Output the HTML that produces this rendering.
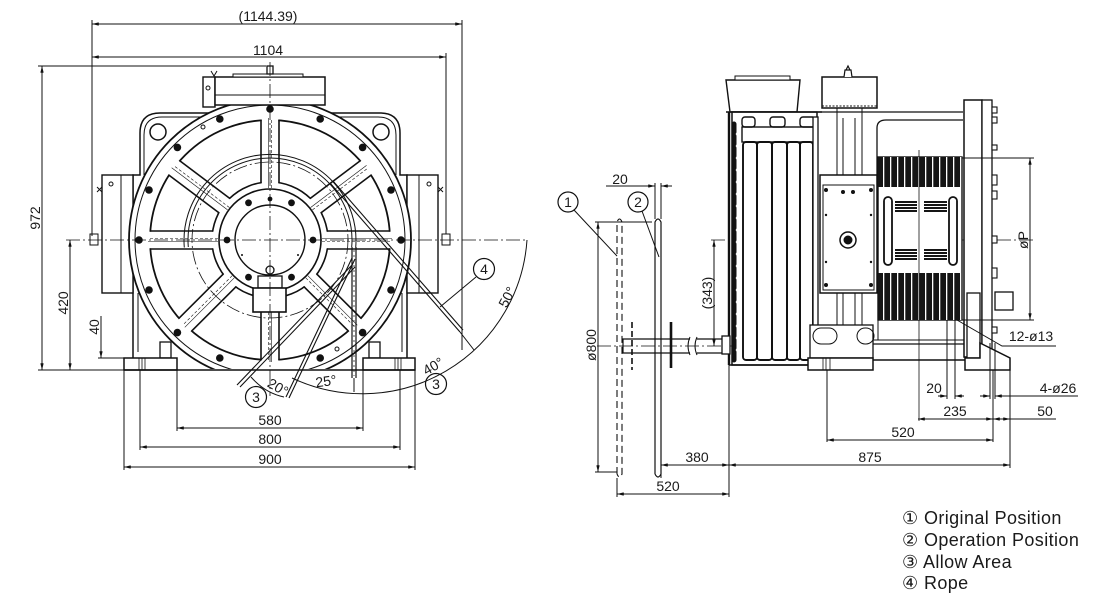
<!DOCTYPE html>
<html><head><meta charset="utf-8"><style>
html,body{margin:0;padding:0;background:#fff;}
svg{display:block;}
text{font-family:"Liberation Sans","DejaVu Sans",sans-serif;fill:#1a1a1a;stroke:none;}
</style></head><body>
<svg width="1105" height="605" viewBox="0 0 1105 605" xmlns="http://www.w3.org/2000/svg">
<defs>
<marker id="a" viewBox="0 0 8 4" refX="8" refY="2" markerWidth="7" markerHeight="3.4" markerUnits="userSpaceOnUse" orient="auto-start-reverse"><path d="M0,0L8,2L0,4z" fill="#111"/></marker>
<clipPath id="cb"><rect x="0" y="0" width="1105" height="369"/></clipPath>
<pattern id="gr" x="878" y="0" width="7" height="10" patternUnits="userSpaceOnUse"><rect width="7" height="10" fill="#151515"/><rect x="5" width="1.3" height="10" fill="#fff"/></pattern>
<pattern id="hv" x="0" y="0" width="4" height="3" patternUnits="userSpaceOnUse"><rect width="4" height="2" fill="#151515"/></pattern>
</defs>

<!-- ================= LEFT VIEW ================= -->
<g fill="none" stroke="#111" stroke-width="1">
<path d="M133,358 L133,175 L140,175 L140,133 Q140,113 160,113 L380,113 Q400,113 400,133 L400,175 L407,175 L407,358" fill="#fff" stroke-width="1.5"/>
<path d="M144,175 L144,135 Q144,117 162,117 L378,117 Q396,117 396,135 L396,175"/>
<line x1="138" y1="293" x2="138" y2="352"/>
<line x1="402" y1="293" x2="402" y2="352"/>
<circle cx="158" cy="132" r="8" stroke-width="1.5"/>
<circle cx="381" cy="132" r="8" stroke-width="1.5"/>
<rect x="102" y="175" width="31" height="118" fill="#fff" stroke-width="1.4"/>
<line x1="121" y1="175" x2="121" y2="293"/>
<circle cx="111" cy="184" r="2"/>
<rect x="407" y="175" width="31" height="118" fill="#fff" stroke-width="1.4"/>
<line x1="419" y1="175" x2="419" y2="293"/>
<circle cx="429" cy="184" r="2"/>
<path d="M97,187 l5,5 M97,192 l5,-5 M438,187 l5,5 M438,192 l5,-5"/>
<rect x="90" y="234" width="8" height="11" fill="#fff"/>
<rect x="442" y="234" width="8" height="11" fill="#fff"/>
<rect x="160" y="342" width="11" height="16" fill="#fff" stroke-width="1.3"/>
<rect x="369" y="342" width="11" height="16" fill="#fff" stroke-width="1.3"/>
<rect x="124" y="358" width="53" height="12" fill="#fff" stroke-width="1.5"/>
<rect x="363" y="358" width="52" height="12" fill="#fff" stroke-width="1.5"/>
<path d="M139,358v12M142,358v12M145,358v12M395,358v12M398,358v12M401,358v12" stroke-width=".8"/>
<g clip-path="url(#cb)">
<circle cx="270" cy="240" r="141" fill="#fff" stroke-width="1.8"/>
<circle cx="270" cy="240" r="135"/>
</g>
<line x1="124" y1="370" x2="415" y2="370" stroke-width="1.5"/>
<g fill="#111" stroke="none">
<circle cx="401" cy="240" r="3.8"/><circle cx="391" cy="190" r="3.8"/><circle cx="362.6" cy="147.4" r="3.8"/><circle cx="320.2" cy="119" r="3.8"/>
<circle cx="270" cy="109" r="3.8"/><circle cx="219.8" cy="119" r="3.8"/><circle cx="177.4" cy="147.4" r="3.8"/><circle cx="149" cy="190" r="3.8"/>
<circle cx="139" cy="240" r="3.8"/><circle cx="149" cy="290" r="3.8"/><circle cx="177.4" cy="332.6" r="3.8"/><circle cx="219.8" cy="358" r="3.8"/>
<circle cx="320.2" cy="358" r="3.8"/><circle cx="362.6" cy="332.6" r="3.8"/><circle cx="391" cy="290" r="3.8"/>
</g>
<circle cx="203" cy="127" r="2"/>
<circle cx="337" cy="349" r="2"/>
<circle cx="270" cy="240" r="120" stroke-width="1.8"/>
<circle cx="270" cy="240" r="58" stroke-width="1.6"/>
<g id="sp0">
<rect x="325" y="231.7" width="67" height="16.6" fill="#fff" stroke="none"/>
<line x1="327" y1="231" x2="390" y2="231" stroke-width="1.6"/>
<line x1="327" y1="249" x2="390" y2="249" stroke-width="1.6"/>
<line x1="322" y1="238.5" x2="392" y2="238.5" stroke-width=".6"/>
<line x1="322" y1="241.5" x2="392" y2="241.5" stroke-width=".6" stroke-dasharray="3 2"/>
</g>
<use href="#sp0" transform="rotate(-37 270 240)"/>
<use href="#sp0" transform="rotate(-90 270 240)"/>
<use href="#sp0" transform="rotate(-143 270 240)"/>
<use href="#sp0" transform="rotate(180 270 240)"/>
<use href="#sp0" transform="rotate(135 270 240)"/>
<use href="#sp0" transform="rotate(90 270 240)"/>
<use href="#sp0" transform="rotate(45 270 240)"/>
<circle cx="270" cy="240" r="78" stroke-width=".8" stroke-dasharray="14 3 2 3"/>
<path d="M188.3,247 A82,82 0 1,1 351.7,247"/>
<path d="M184.3,247.5 A86,86 0 1,1 355.7,247.5"/>
<circle cx="270" cy="240" r="51" fill="#fff" stroke-width="1.6"/>
<circle cx="270" cy="240" r="35" stroke-width="1.4"/>
<g fill="#111" stroke="none">
<circle cx="313" cy="240" r="3.4"/><circle cx="227" cy="240" r="3.4"/>
<circle cx="291.5" cy="202.8" r="3.4"/><circle cx="248.5" cy="202.8" r="3.4"/>
<circle cx="248.5" cy="277.2" r="3.4"/><circle cx="291.5" cy="277.2" r="3.4"/>
<circle cx="270" cy="199" r="2.4"/><circle cx="242" cy="255" r="1"/><circle cx="298" cy="255" r="1"/>
</g>
<circle cx="270" cy="270" r="4" fill="#fff" stroke-width="1.3"/>
<rect x="258" y="276" width="24" height="12" fill="#fff" stroke-width="1.3"/>
<rect x="253" y="288" width="33" height="24" fill="#fff" stroke-width="1.6"/>
<rect x="203" y="77" width="12" height="30" fill="#fff" stroke-width="1.4"/>
<circle cx="208" cy="88" r="2"/>
<rect x="215" y="77" width="110" height="28" fill="#fff" stroke-width="1.5"/>
<line x1="215" y1="95" x2="325" y2="95"/>
<rect x="233" y="74" width="70" height="3" fill="#fff"/>
<rect x="267" y="66" width="6" height="8" fill="#fff" stroke-width="1.3"/>
<path d="M211,71 l3,5 l3,-5" />
<line x1="270" y1="62" x2="270" y2="396" stroke-width=".8" stroke-dasharray="14 3 2 3"/>
<line x1="66" y1="240" x2="527" y2="240" stroke-width=".8" stroke-dasharray="14 3 2 3"/>
<line x1="352" y1="247" x2="352" y2="378" stroke-width="1.2"/>
<line x1="356" y1="247" x2="356" y2="378" stroke-width="1.2"/>
<line x1="354" y1="250" x2="354" y2="376" stroke-width=".7" stroke-dasharray="2 3"/>
<line x1="330" y1="183" x2="460" y2="332" stroke-width="1.1"/>
<line x1="333" y1="181" x2="463" y2="330" stroke-width="1.1"/>
<line x1="460" y1="332" x2="474" y2="350"/>
<line x1="237" y1="385" x2="352" y2="265" stroke-width="1.1"/>
<line x1="240" y1="387" x2="355" y2="267" stroke-width="1.1"/>
<line x1="286" y1="397" x2="352" y2="258" stroke-width="1.1"/>
<line x1="289" y1="398" x2="355" y2="259" stroke-width="1.1"/>
<path d="M527,240 A165,165 0 0,1 292,378"/>
<path d="M251,377 Q265,393 284,397"/>
<line x1="354" y1="378" x2="354" y2="392"/>
<line x1="476" y1="277" x2="440" y2="307"/>
<line x1="92" y1="24" x2="462" y2="24" marker-start="url(#a)" marker-end="url(#a)"/>
<line x1="92" y1="57" x2="446" y2="57" marker-start="url(#a)" marker-end="url(#a)"/>
<line x1="92" y1="20" x2="92" y2="236"/>
<line x1="462" y1="20" x2="462" y2="350"/>
<line x1="446" y1="53" x2="446" y2="234"/>
<line x1="42" y1="66" x2="42" y2="370" marker-start="url(#a)" marker-end="url(#a)"/>
<line x1="38" y1="66" x2="266" y2="66"/>
<line x1="38" y1="370" x2="124" y2="370"/>
<line x1="70" y1="240" x2="70" y2="370" marker-start="url(#a)" marker-end="url(#a)"/>
<line x1="101" y1="316" x2="101" y2="358" marker-end="url(#a)"/>
<line x1="98" y1="358" x2="124" y2="358"/>
<line x1="177" y1="370" x2="177" y2="431"/>
<line x1="363" y1="370" x2="363" y2="431"/>
<line x1="140" y1="370" x2="140" y2="450"/>
<line x1="400" y1="370" x2="400" y2="450"/>
<line x1="124" y1="370" x2="124" y2="470"/>
<line x1="415" y1="370" x2="415" y2="470"/>
<line x1="177" y1="428" x2="363" y2="428" marker-start="url(#a)" marker-end="url(#a)"/>
<line x1="140" y1="447" x2="400" y2="447" marker-start="url(#a)" marker-end="url(#a)"/>
<line x1="124" y1="467" x2="415" y2="467" marker-start="url(#a)" marker-end="url(#a)"/>
<circle cx="484" cy="269" r="10.5" stroke-width="1.2"/>
<circle cx="436" cy="384" r="10.5" stroke-width="1.2"/>
<circle cx="256" cy="397" r="10.5" stroke-width="1.2"/>
</g>
<g font-size="14" text-anchor="middle">
<text x="268" y="21">(1144.39)</text>
<text x="268" y="55">1104</text>
<text transform="translate(40,218) rotate(-90)">972</text>
<text transform="translate(68,303) rotate(-90)">420</text>
<text transform="translate(99,327) rotate(-90)">40</text>
<text x="270" y="425">580</text>
<text x="270" y="444">800</text>
<text x="270" y="464">900</text>
<text transform="translate(507,297) rotate(-62)" dy="5">50°</text>
<text transform="translate(433,366) rotate(-30)" dy="5">40°</text>
<text transform="translate(326,381) rotate(-8)" dy="5">25°</text>
<text transform="translate(278,387) rotate(30)" dy="5">20°</text>
<text x="484" y="274">4</text>
<text x="436" y="389">3</text>
<text x="256" y="402">3</text>
</g>

<!-- ================= RIGHT VIEW ================= -->
<g fill="none" stroke="#111" stroke-width="1">
<line x1="598" y1="222" x2="598" y2="472" marker-start="url(#a)" marker-end="url(#a)"/>
<line x1="595" y1="222" x2="652" y2="222"/>
<line x1="595" y1="472" x2="617" y2="472"/>
<path d="M617,474 L617,222 Q619.5,216 622,222 L622,474 Q619.5,480 617,474" stroke-dasharray="7 4" stroke-width="1.1"/>
<path d="M655,474 L655,222 Q658,216 661,222 L661,474 Q658,480 655,474" stroke-width="1.2"/>
<line x1="655" y1="183" x2="655" y2="219"/>
<line x1="661" y1="183" x2="661" y2="219"/>
<line x1="606" y1="186" x2="655" y2="186" marker-end="url(#a)"/>
<line x1="672" y1="186" x2="661" y2="186" marker-end="url(#a)"/>
<circle cx="568" cy="202" r="10" stroke-width="1.2"/>
<circle cx="638" cy="202" r="10" stroke-width="1.2"/>
<line x1="574" y1="210" x2="617" y2="256"/>
<line x1="642" y1="211" x2="659" y2="257"/>
<line x1="597" y1="346" x2="745" y2="346" stroke-width=".8" stroke-dasharray="14 3 2 3"/>
<path d="M690,339 L623,339 L623,353 L690,353 M697,339 L725,339 M697,353 L725,353" stroke-width="1.2"/>
<path d="M690,337 q-4,9 0,18 M697,337 q-4,9 0,18"/>
<line x1="671" y1="322" x2="671" y2="368" stroke-width="2.6"/>
<line x1="632" y1="322" x2="632" y2="370" stroke-width="1.6" stroke-dasharray="6 3"/>
<line x1="714" y1="240" x2="714" y2="346" marker-start="url(#a)" marker-end="url(#a)"/>
<line x1="711" y1="240" x2="1035" y2="240" stroke-width=".8" stroke-dasharray="14 3 2 3"/>
<polygon points="726,80 800,80 797,112 730,112" fill="#fff" stroke-width="1.4"/>
<rect x="735" y="76" width="55" height="4" fill="#fff"/>
<rect x="732" y="112" width="85" height="253" fill="#fff" stroke-width="1.5"/>
<line x1="726" y1="112" x2="822" y2="112" stroke-width="1.5"/>
<rect x="742" y="127" width="73" height="15" stroke-width="1.4"/>
<rect x="742" y="117" width="13" height="10" rx="3" stroke-width="1.4"/>
<rect x="770" y="117" width="15" height="10" rx="3" stroke-width="1.4"/>
<rect x="800" y="117" width="15" height="10" rx="3" stroke-width="1.4"/>
<rect x="743" y="142" width="14" height="218" rx="3" stroke-width="1.9"/>
<rect x="757" y="142" width="15" height="218" rx="3" stroke-width="1.9"/>
<rect x="772" y="142" width="15" height="218" rx="3" stroke-width="1.9"/>
<rect x="787" y="142" width="13" height="218" rx="3" stroke-width="1.9"/>
<rect x="800" y="142" width="13" height="218" rx="3" stroke-width="1.9"/>
<line x1="729" y1="112" x2="729" y2="365" stroke-width="2.4"/>
<line x1="734" y1="124" x2="734" y2="360" stroke-width="5" stroke-dasharray="8 4" stroke-linecap="round"/>
<rect x="722" y="336" width="8" height="18" fill="#fff" stroke-width="1.3"/>
<line x1="729" y1="365" x2="810" y2="365" stroke-width="1.5"/>
<rect x="813" y="117" width="5" height="243" fill="#fff" stroke-width="1.3"/>
<rect x="822" y="77" width="55" height="31" fill="#fff" stroke-width="1.5"/>
<line x1="822" y1="106" x2="877" y2="106" stroke-dasharray="2 1.5"/>
<path d="M844,77 L845,70 L851,70 L852,77 M846,70 L848,66 L850,70" fill="#fff" stroke-width="1.2"/>
<line x1="818" y1="112" x2="963" y2="112" stroke-width="1.3"/>
<path d="M877,175 L877,128 Q877,120 886,120 L963,120" stroke-width="1.3"/>
<path d="M837,108 V175 M843,118 V175 M855,118 V175 M862,108 V175 M837,293 V345 M843,293 V340 M855,293 V340 M862,293 V345"/>
<rect x="820" y="175" width="57" height="118" fill="#fff" stroke-width="1.5"/>
<rect x="823" y="185" width="51" height="105"/>
<g fill="#111" stroke="none"><circle cx="826" cy="190" r="2"/><circle cx="871" cy="190" r="2"/><circle cx="826" cy="285" r="2"/><circle cx="871" cy="285" r="2"/><circle cx="826" cy="215" r="1.2"/><circle cx="871" cy="215" r="1.2"/><circle cx="826" cy="262" r="1.2"/><circle cx="871" cy="262" r="1.2"/><circle cx="843" cy="192" r="2"/><circle cx="853" cy="192" r="2"/></g>
<circle cx="848" cy="240" r="8" stroke-width="1.5"/>
<circle cx="848" cy="240" r="4" fill="#111"/>
<rect x="810" y="325" width="63" height="33" fill="#fff" stroke-width="1.3"/>
<rect x="813" y="328" width="24" height="16" rx="8"/>
<rect x="857" y="328" width="17" height="16" rx="8"/>
<rect x="808" y="358" width="65" height="12" fill="#fff" stroke-width="1.5"/>
<path d="M823,358v12M826,358v12M830,358v12" stroke-width=".8"/>
<line x1="873" y1="340" x2="965" y2="340"/>
<line x1="873" y1="344" x2="965" y2="344" stroke-width="1.3"/>
<line x1="873" y1="360" x2="965" y2="360" stroke-width="1.5"/>
<line x1="878" y1="320" x2="878" y2="340"/>
<rect x="878" y="157" width="84" height="163" fill="#fff" stroke-width="1.4"/>
<rect x="878" y="157" width="84" height="30" fill="url(#gr)" stroke="none"/>
<rect x="878" y="273" width="84" height="47" fill="url(#gr)" stroke="none"/>
<rect x="895" y="200" width="22" height="13" fill="url(#hv)" stroke="none"/>
<rect x="924" y="200" width="23" height="13" fill="url(#hv)" stroke="none"/>
<rect x="895" y="248" width="22" height="13" fill="url(#hv)" stroke="none"/>
<rect x="924" y="248" width="23" height="13" fill="url(#hv)" stroke="none"/>
<rect x="884" y="197" width="8" height="68" rx="4" stroke-width="1.8"/>
<rect x="949" y="197" width="8" height="68" rx="4" stroke-width="1.8"/>
<line x1="919" y1="150" x2="919" y2="421" stroke-width=".8"/>
<rect x="964" y="100" width="18" height="257" fill="#fff" stroke-width="1.5"/>
<rect x="982" y="100" width="10" height="257" fill="#fff" stroke-width="1.3"/>
<g fill="#fff" stroke-width="1.1"><rect x="992" y="107" width="5" height="6"/><rect x="992" y="117" width="5" height="6"/><rect x="992" y="145" width="5" height="5"/><rect x="992" y="175" width="5" height="10"/><rect x="992" y="191" width="5" height="8"/><rect x="992" y="236" width="5" height="7"/><rect x="992" y="268" width="5" height="10"/><rect x="992" y="327" width="5" height="6"/></g>
<rect x="995" y="292" width="18" height="18" fill="#fff" stroke-width="1.3"/>
<rect x="967" y="293" width="13" height="65" fill="#fff" stroke-width="1.3"/>
<path d="M980,343 L1010,358 L1010,370 L965,370 L965,358 L980,358 Z" fill="#fff" stroke-width="1.5"/>
<line x1="962" y1="158" x2="1034" y2="158"/>
<line x1="962" y1="320" x2="1034" y2="320"/>
<line x1="1030" y1="158" x2="1030" y2="320" marker-start="url(#a)" marker-end="url(#a)"/>
<path d="M957,320 L1002,346 L1056,346"/>
<line x1="827" y1="370" x2="827" y2="442"/>
<line x1="947" y1="320" x2="947" y2="399"/>
<line x1="955" y1="320" x2="955" y2="399"/>
<line x1="990" y1="343" x2="990" y2="399"/>
<line x1="995" y1="343" x2="995" y2="399"/>
<line x1="993" y1="370" x2="993" y2="442"/>
<line x1="1010" y1="370" x2="1010" y2="468"/>
<line x1="729" y1="365" x2="729" y2="497"/>
<line x1="617" y1="478" x2="617" y2="497"/>
<line x1="661" y1="478" x2="661" y2="468"/>
<line x1="938" y1="396" x2="947" y2="396" marker-end="url(#a)"/>
<line x1="964" y1="396" x2="955" y2="396" marker-end="url(#a)"/>
<line x1="980" y1="396" x2="990" y2="396" marker-end="url(#a)"/>
<line x1="1078" y1="396" x2="995" y2="396" marker-end="url(#a)"/>
<line x1="918" y1="419" x2="993" y2="419" marker-start="url(#a)" marker-end="url(#a)"/>
<line x1="993" y1="419" x2="1010" y2="419" marker-start="url(#a)" marker-end="url(#a)"/>
<line x1="1010" y1="419" x2="1056" y2="419"/>
<line x1="827" y1="440" x2="993" y2="440" marker-start="url(#a)" marker-end="url(#a)"/>
<line x1="729" y1="465" x2="1010" y2="465" marker-start="url(#a)" marker-end="url(#a)"/>
<line x1="661" y1="465" x2="729" y2="465" marker-start="url(#a)" marker-end="url(#a)"/>
<line x1="617" y1="494" x2="729" y2="494" marker-start="url(#a)" marker-end="url(#a)"/>
</g>
<g font-size="14" text-anchor="middle">
<text x="620" y="184">20</text>
<text x="568" y="207">1</text>
<text x="638" y="207">2</text>
<text transform="translate(712,293) rotate(-90)">(343)</text>
<text transform="translate(596,345) rotate(-90)">ø800</text>
<text transform="translate(1028,240) rotate(-90)">øP</text>
<text x="1031" y="341">12-ø13</text>
<text x="934" y="393">20</text>
<text x="1058" y="393">4-ø26</text>
<text x="955" y="416">235</text>
<text x="1045" y="416">50</text>
<text x="903" y="437">520</text>
<text x="870" y="462">875</text>
<text x="697" y="462">380</text>
<text x="668" y="491">520</text>
</g>

<g font-size="18" letter-spacing="0.4">
<text x="902" y="524">① Original Position</text>
<text x="902" y="546">② Operation Position</text>
<text x="902" y="568">③ Allow Area</text>
<text x="902" y="589">④ Rope</text>
</g>
</svg>
</body></html>
